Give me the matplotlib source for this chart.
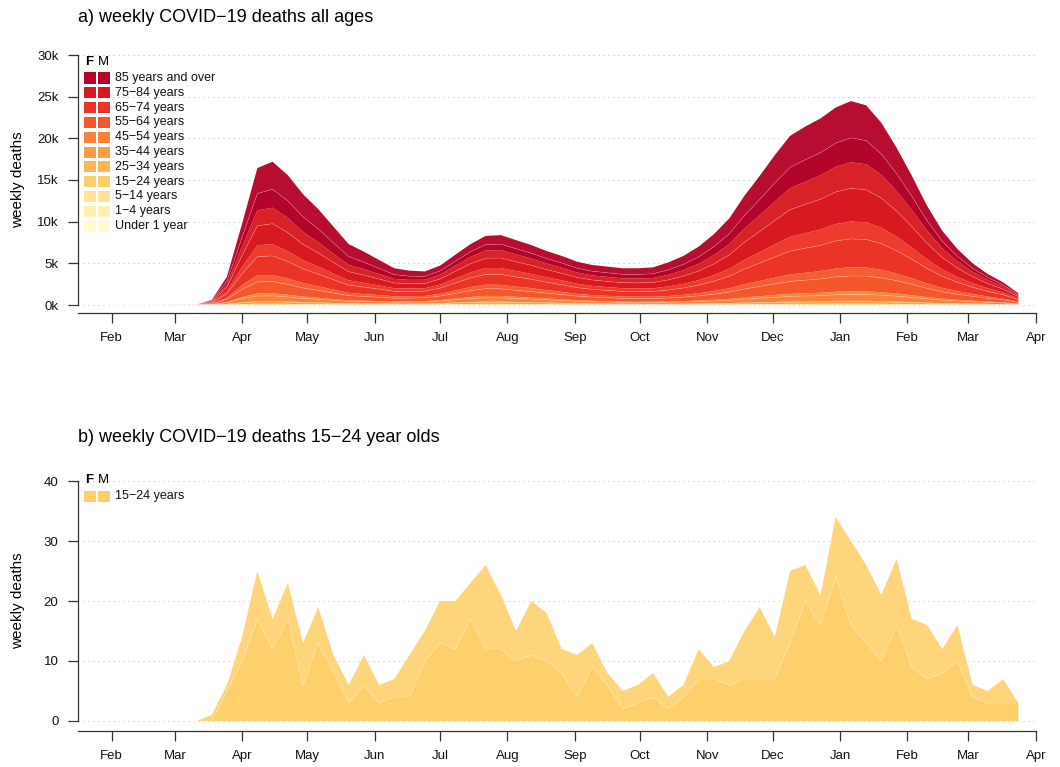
import numpy as np
import matplotlib
matplotlib.use('Agg')
import matplotlib.pyplot as plt
import matplotlib.dates as mdates
from matplotlib.patches import Rectangle

plt.rcParams['font.family'] = ['Liberation Sans', 'DejaVu Sans']

# weekly points (mid-week), Jan 29 2020 .. Mar 24 2021
weeks = np.arange('2020-01-29', '2021-03-25', 7, dtype='datetime64[D]')

ages = ['Under 1 year', '1\u22124 years', '5\u221214 years', '15\u221224 years',
        '25\u221234 years', '35\u221244 years', '45\u221254 years', '55\u221264 years',
        '65\u221274 years', '75\u221284 years', '85 years and over']
colours = ['#FFFBCF', '#FFEFB0', '#FFE397', '#FED06C', '#FDB654', '#FB9D46',
           '#F8823A', '#F5572D', '#EC3426', '#D81920', '#B3042A']

# weekly deaths, males / females, by age group
u1_m = [0,0,0,0,0,0,0,0,0,1, 1,0,1,0,1,0,0,1,0,1, 0,0,1,1,0,1,1,0,0,1,
        0,1,0,0,1,0,1,0,0,1, 1,0,1,1,1,0,1,1,2,1, 1,1,0,1,1,0,1,0,0,1, 0]
u1_f = [0,0,0,0,0,0,0,0,1,0, 1,1,0,0,1,0,1,0,0,1, 0,1,0,0,1,0,1,1,0,0,
        1,0,0,1,0,1,0,1,0,0, 1,1,0,1,1,1,0,1,1,1, 2,1,1,0,1,1,0,1,0,0, 0]
a1_4_m = [0,0,0,0,0,0,0,0,0,1, 0,1,1,0,0,1,0,0,1,0, 1,0,0,1,1,0,1,0,1,0,
          0,1,0,1,0,0,1,0,1,1, 0,1,1,0,1,2,1,1,1,2, 1,1,1,0,1,0,1,0,1,0, 0]
a1_4_f = [0,0,0,0,0,0,0,0,0,0, 1,0,0,1,0,0,1,0,0,1, 0,0,1,0,0,1,0,1,0,0,
          1,0,0,0,1,0,0,1,0,0, 1,0,1,1,0,1,1,0,1,1, 1,0,1,1,0,1,0,0,1,0, 0]
a5_14_m = [0,0,0,0,0,0,0,0,1,1, 2,1,2,1,1,2,1,1,1,0, 1,1,2,2,3,2,2,3,2,1,
           2,1,1,2,1,2,2,1,2,2, 3,2,3,3,4,3,4,3,4,4, 3,3,2,3,2,2,1,2,1,1, 1]
a5_14_f = [0,0,0,0,0,0,0,0,0,1, 1,2,1,1,1,0,1,1,0,1, 1,2,1,2,2,2,1,2,1,2,
           1,1,2,1,1,1,2,1,1,2, 2,2,3,2,3,3,3,3,2,3, 3,2,2,2,1,2,1,1,1,1, 0]
a15_24_m = [0,0,0,0,0,0, 0,0,5,10,17,12,17,6,13,8, 3,6,3,4,4,10,13,12,17,12,
            12,10,11,10,8,4,9,6,2,3, 4,2,4,7,7,6,7,7,7,13, 20,16,24,16,13,10,16,9,7,8,
            10,4,3,3,3]
a15_24_f = [0,0,0,0,0,0, 0,1,1,4,8,5,6,7,6,3, 3,5,3,3,7,5,7,8,6,14,
            9,5,9,8,4,7,4,2,3,3, 4,2,2,5,2,4,8,12,7,12, 6,5,10,14,13,11,11,8,9,4,
            6,2,2,4,0]
a25_34_m = [0,0,0,0,0,0,0,4,24,62, 81,84,76,60,53,43,36,32,30,28, 29,31,39,55,67,76,76,71,66,55,
            46,36,34,29,25,25,22,22,25,29, 36,36,46,55,63,71,75,78,83,86, 84,77,67,55,42,37,28,25,21,15, 9]
a25_34_f = [0,0,0,0,0,0,0,2,10,26, 34,36,33,26,22,18,15,13,13,12, 12,13,17,23,28,32,33,30,28,23,
            19,16,14,12,10,10,10,9,10,13, 15,16,20,23,27,31,32,34,36,37, 36,33,28,23,18,16,12,10,9,7, 4]
a35_44_m = [0,0,0,0,0,0,1,11,61,155, 226,237,204,165,143,117,90,84,78,70, 71,77,97,132,166,189,186,167,154,135,
            118,97,86,76,70,67,62,67,73,82, 94,108,136,150,174,196,207,217,229,237,
            232,227,196,171,139,110,92,79,64,48, 26]
a35_44_f = [0,0,0,0,0,0,0,5,27,70, 102,107,92,74,64,52,41,38,35,31, 32,35,44,60,75,85,83,75,69,60,
            53,43,39,34,31,30,28,30,33,37, 42,48,61,67,78,88,93,97,103,106,
            104,102,88,77,63,50,42,36,29,22, 12]
a45_54_m = [0,0,0,0,0,1,2,28,159,427, 604,611,533,446,378,309,245,223,206,183,
            187,196,246,322,401,456,450,407,371,327, 289,244,212,194,180,174,172,188,210,239,
            285,342,421,488,555,612,645,675,730,755, 756,719,646,551,446,358,292,241,186,141, 75]
a45_54_f = [0,0,0,0,0,0,1,14,79,210, 298,301,263,219,186,152,120,110,102,90,
            92,96,121,158,198,225,222,201,183,161, 142,120,105,96,88,86,85,93,103,118,
            140,168,208,241,273,302,318,333,360,372, 372,354,318,271,220,176,144,119,92,70, 37]
a55_64_m = [0,0,0,0,1,1,4,58,326,909, 1396,1409,1248,1039,883,722,570,512,456,394,
            388,397,481,614,757,861,860,788,719,641, 566,489,439,412,386,380,383,424,483,560,
            669,812,1006,1171,1336,1494,1575,1663,1790,1850, 1843,1724,1536,1309,1051,826,656,512,391,294, 157]
a55_64_f = [0,0,0,0,0,0,2,32,184,512, 785,793,702,584,497,406,321,288,257,222,
            219,223,271,346,426,484,484,444,404,360, 319,275,247,232,217,214,216,239,272,315,
            377,457,566,658,752,841,886,935,1007,1041, 1037,970,864,737,591,465,369,288,220,165, 88]
a65_74_m = [0,0,0,0,1,1,6,86,485,1367, 2237,2293,2031,1707,1462,1195,937,833,720,600,
            572,570,685,893,1086,1235,1250,1161,1063,955, 860,751,684,650,619,616,628,712,823,977,
            1186,1451,1828,2143,2478,2794,2946,3097,3306,3403, 3363,3123,2742,2287,1793,1380,1060,806,608,452, 234]
a65_74_f = [0,0,0,0,0,1,3,52,297,838, 1371,1405,1245,1046,896,732,574,511,441,368,
            351,350,420,547,666,757,766,711,651,586, 527,461,420,399,380,378,385,436,505,598,
            727,889,1120,1314,1518,1713,1805,1898,2027,2085, 2061,1914,1681,1402,1099,845,649,494,373,277, 144]
a75_84_m = [0,0,0,0,1,2,6,84,476,1372, 2342,2456,2228,1900,1642,1342,1043,914,771,628,
            586,571,671,857,1043,1186,1200,1114,1028,928, 849,757,704,683,660,665,688,786,918,1098,
            1347,1660,2091,2474,2873,3263,3451,3638,3849,3979, 3898,3557,3069,2517,1933,1421,1051,770,559,401, 204]
a75_84_f = [0,0,0,0,0,1,5,66,374,1078, 1840,1930,1750,1492,1291,1055,819,718,606,494,
            460,449,528,673,819,931,942,875,808,730, 667,595,554,536,519,523,541,617,722,862,
            1059,1304,1643,1944,2257,2563,2712,2858,3024,3126, 3062,2794,2412,1978,1518,1116,825,605,440,315, 160]
a85_m = [0,0,0,0,1,1,4,62,354,1098, 2034,2202,2059,1809,1587,1297,993,845,670,510,
         443,400,432,528,613,697,722,686,648,598, 566,520,499,497,484,493,513,592,684,826,
         1003,1227,1572,1891,2232,2517,2654,2733,2844,2940, 2832,2497,2079,1643,1190,837,590,400,281,200, 101]
a85_f = [0,0,0,0,1,2,6,94,530,1646, 3050,3302,3089,2713,2381,1946,1489,1267,1004,766,
         664,600,649,792,920,1046,1084,1030,972,897, 850,780,749,745,726,739,770,887,1027,1239,
         1505,1841,2358,2837,3348,3776,3980,4099,4266,4410, 4248,3745,3119,2465,1785,1255,884,600,422,300, 151]

males = [u1_m, a1_4_m, a5_14_m, a15_24_m, a25_34_m, a35_44_m, a45_54_m,
         a55_64_m, a65_74_m, a75_84_m, a85_m]
females = [u1_f, a1_4_f, a5_14_f, a15_24_f, a25_34_f, a35_44_f, a45_54_f,
           a55_64_f, a65_74_f, a75_84_f, a85_f]

W, H = 1060, 767


def lighter(c, f):
    r, g, b = matplotlib.colors.to_rgb(c)
    return (r + (1 - r) * f, g + (1 - g) * f, b + (1 - b) * f)


def px(x, y):
    return x / W, 1 - y / H


def stack(ax, groups, fade):
    layers, cols, tops = [], [], []
    run = np.zeros(len(weeks))
    for g in groups:
        m = np.array(males[g], float)
        f = np.array(females[g], float)
        layers += [m, f]
        cols += [colours[g], lighter(colours[g], fade)]
        run = run + m
        tops.append(run.copy())
        run = run + f
    ax.stackplot(weeks, *layers, colors=cols, linewidth=0, zorder=1)
    for t in tops:
        ax.plot(weeks, t, color='white', alpha=0.25, lw=0.5, zorder=2)


def style(ax, ymax, yticks, ylabels):
    ax.set_xlim(np.datetime64('2020-01-16T12:00'), np.datetime64('2021-04-01T14:00'))
    for s in ['top', 'right']:
        ax.spines[s].set_visible(False)
    for s in ['left', 'bottom']:
        ax.spines[s].set_color('#333333')
        ax.spines[s].set_linewidth(0.9)
    ax.spines['left'].set_bounds(0, ymax)
    ax.spines['bottom'].set_bounds(ax.get_xlim()[0],
                                   mdates.date2num(np.datetime64('2021-04-01')))
    ax.set_yticks(yticks)
    ax.set_yticklabels(ylabels)
    for y in yticks:
        ax.axhline(y, color='#c4c4c4', lw=0.8, ls=(0, (1, 3.5)), zorder=0)
    ax.xaxis.set_major_locator(mdates.MonthLocator())
    ax.xaxis.set_major_formatter(mdates.DateFormatter('%b'))
    ax.tick_params(length=7, width=0.9, color='#333333', labelsize=9.5, pad=7,
                   labelcolor='#111111')


def legend(y0, groups):
    fx, fy = px(89, y0)
    fig.text(fx, fy, 'F', fontsize=9.5, fontweight='bold', ha='center', va='center')
    fx, fy = px(103, y0)
    fig.text(fx, fy, 'M', fontsize=9.5, ha='center', va='center')
    for i, g in enumerate(groups):
        yc = y0 + 16 + i * 14.8
        for xs in (84, 98):
            rx, ry = px(xs, yc + 5.5)
            fig.add_artist(Rectangle((rx, ry), 11.5 / W, 11 / H, transform=fig.transFigure,
                                     facecolor=colours[g], edgecolor='none'))
        tx, ty = px(115, yc)
        fig.text(tx, ty, ages[g], fontsize=9, ha='left', va='center', color='#111111')


fig = plt.figure(figsize=(W / 100, H / 100), dpi=100)

ax1 = fig.add_axes([78 / W, 1 - 313 / H, 959 / W, 266 / H])
stack(ax1, range(11), 0.035)
ax1.set_ylim(-960, 30960)
style(ax1, 30000, [0, 5000, 10000, 15000, 20000, 25000, 30000],
      ['0k', '5k', '10k', '15k', '20k', '25k', '30k'])

ax2 = fig.add_axes([78 / W, 1 - 731 / H, 959 / W, 260 / H])
stack(ax2, [3], 0.1)
ax2.set_ylim(-1.667, 41.667)
style(ax2, 40, [0, 10, 20, 30, 40], ['0', '10', '20', '30', '40'])

tx, ty = px(78, 18)
fig.text(tx, ty, 'a) weekly COVID\u221219 deaths all ages', fontsize=13, ha='left', va='center')
tx, ty = px(78, 437)
fig.text(tx, ty, 'b) weekly COVID\u221219 deaths 15\u221224 year olds', fontsize=13,
         ha='left', va='center')
for yc in (180, 601):
    tx, ty = px(18, yc)
    fig.text(tx, ty, 'weekly deaths', rotation=90, fontsize=11, ha='center', va='center')

legend(62, list(range(10, -1, -1)))
legend(480, [3])

fig.savefig('out.png', dpi=100)
